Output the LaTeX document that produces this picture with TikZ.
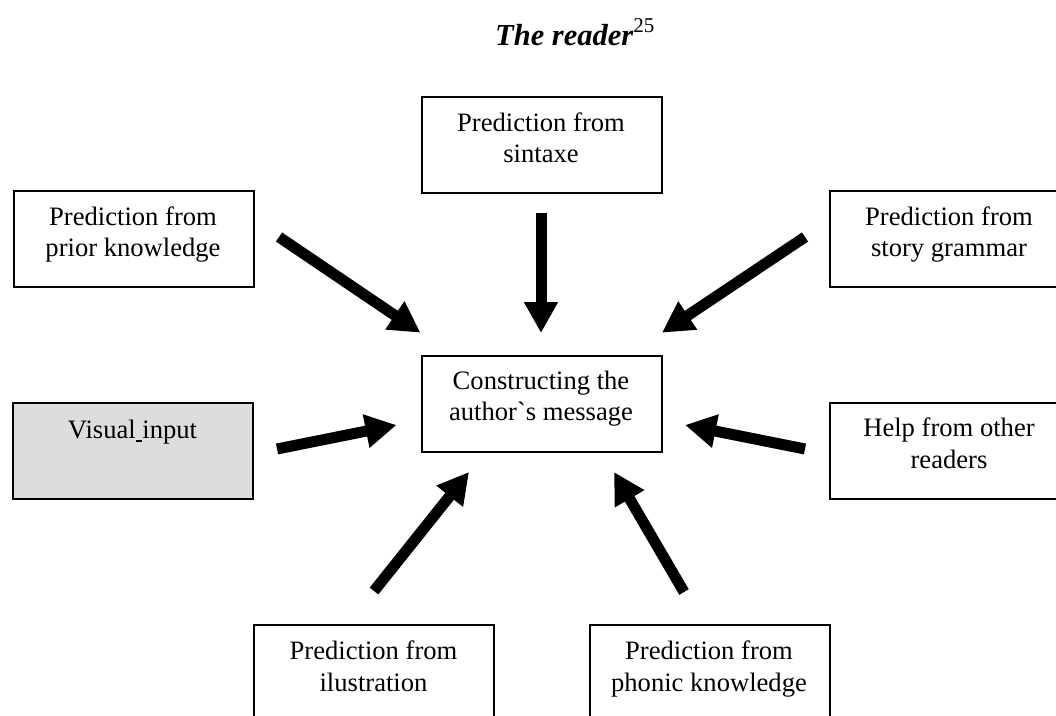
\documentclass[tikz,border=0pt]{standalone}
\usepackage{fontspec}
\setmainfont{Liberation Serif}
\usetikzlibrary{arrows.meta}

\definecolor{boxgray}{RGB}{221,221,221}

\tikzset{
  box/.style={draw=black, line width=1.7pt, anchor=north west,
              minimum width=240pt, minimum height=96pt, inner sep=0pt},
  txt/.style={inner sep=0pt, anchor=base,
              font=\fontsize{26.6}{31.5}\selectfont},
  bigarrow/.style={draw=black, line width=11pt, line cap=butt,
                   -{Triangle[length=31pt, width=32pt]}},
}

\newcommand{\boxtext}[1]{\parbox[t]{240pt}{\centering #1}}

\begin{document}
\begin{tikzpicture}[x=1pt, y=-1pt]
  \useasboundingbox (0,0) rectangle (1056,715);
  \clip (0,0) rectangle (1056,715);

  % heading
  \node[anchor=base west, inner sep=0pt,
        font=\bfseries\itshape\fontsize{30.5}{36}\selectfont] (title) at (495,45)
    {The reader\raisebox{13pt}{\normalfont\fontsize{21}{25}\selectfont 25}};

  % frames
  \node[box] (syn)    at (421,96)  {};
  \node[box] (prior)  at (13,190)  {};
  \node[box] (story)  at (829,190) {};
  \node[box] (core)   at (421,355) {};
  \node[box, fill=boxgray] (visual) at (12,402) {};
  \node[box] (help)   at (829,402) {};
  \node[box] (illus)  at (253,624) {};
  \node[box] (phonic) at (589,624) {};

  % captions (first baseline 35pt below each frame's top)
  \node[txt] (syn-t)    at (541,131)   {\boxtext{Prediction from\\sintaxe}};
  \node[txt] (prior-t)  at (133,225)   {\boxtext{Prediction from\\prior knowledge}};
  \node[txt] (story-t)  at (949,225)   {\boxtext{Prediction from\\story grammar}};
  \node[txt] (core-t)   at (541,389)   {\boxtext{Constructing the\\author\textasciigrave s message}};
  \node[txt] (visual-t) at (132.5,438) {\boxtext{Visual\raisebox{-3.5pt}{\rule{6.65pt}{1.4pt}}input}};
  \node[txt] (help-t)   at (949,436.5) {\boxtext{Help from other\\readers}};
  \node[txt] (illus-t)  at (373.5,659.5) {\boxtext{Prediction from\\ilustration}};
  \node[txt] (phonic-t) at (709,659.5) {\boxtext{Prediction from\\phonic knowledge}};

  % arrow ends around the central frame
  \coordinate (syn-out)    at (541,213);
  \coordinate (syn-in)     at (541,333);
  \coordinate (prior-out)  at (279,237);
  \coordinate (prior-in)   at (420.5,332.7);
  \coordinate (story-out)  at (805,237);
  \coordinate (story-in)   at (662,332.7);
  \coordinate (visual-out) at (277,449);
  \coordinate (visual-in)  at (396.5,425);
  \coordinate (help-out)   at (805,449);
  \coordinate (help-in)    at (685,425);
  \coordinate (illus-out)  at (374,591);
  \coordinate (illus-in)   at (469,472);
  \coordinate (phonic-out) at (684,592);
  \coordinate (phonic-in)  at (614,472);

  % arrows
  \draw[bigarrow] (syn-out)    -- (syn-in);
  \draw[bigarrow] (prior-out)  -- (prior-in);
  \draw[bigarrow] (story-out)  -- (story-in);
  \draw[bigarrow] (visual-out) -- (visual-in);
  \draw[bigarrow] (help-out)   -- (help-in);
  \draw[bigarrow] (illus-out)  -- (illus-in);
  \draw[bigarrow] (phonic-out) -- (phonic-in);
\end{tikzpicture}
\end{document}
